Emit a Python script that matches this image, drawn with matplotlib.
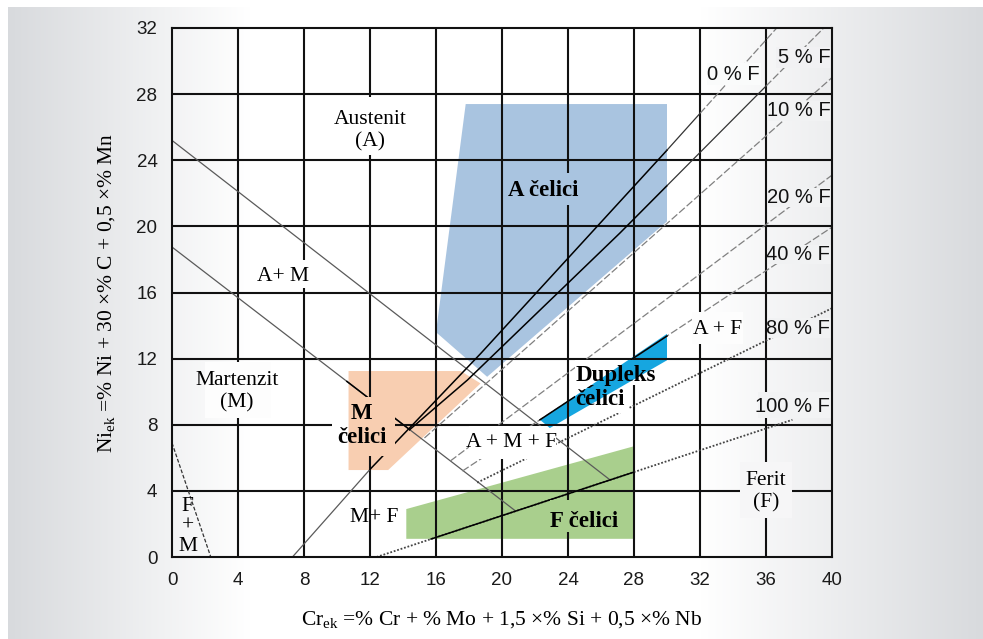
import numpy as np
import matplotlib
matplotlib.use("Agg")
import matplotlib.pyplot as plt
from matplotlib.patches import Polygon, Rectangle

plt.rcParams['mathtext.fontset'] = 'custom'
plt.rcParams['mathtext.rm'] = 'Liberation Serif'
plt.rcParams['mathtext.it'] = 'Liberation Serif:italic'
plt.rcParams['mathtext.bf'] = 'Liberation Serif:bold'

# ---------------- data ----------------
x_ticks = [0, 4, 8, 12, 16, 20, 24, 28, 32, 36, 40]
y_ticks = [0, 4, 8, 12, 16, 20, 24, 28, 32]

# phase boundaries (Cr_ek, Ni_ek)
am_upper_x = [0.0, 26.5]
am_upper_y = [25.2, 4.7]
am_lower_x = [0.0, 20.8]
am_lower_y = [18.75, 2.8]
fm_x = [0.0, 2.35]
fm_y = [6.9, 0.0]

# ferrite lines
f0_x = [7.3, 12.0, 18.7, 29.9, 36.65]
f0_y = [0.0, 5.3, 12.3, 24.5, 32.0]
f5_x = [14.4, 17.9, 27.15, 39.5]
f5_y = [7.7, 10.7, 19.6, 32.0]
f10_x = [15.3, 40.0]
f10_y = [7.2, 29.0]
f20_x = [16.87, 40.0]
f20_y = [5.81, 23.1]
f40_x = [17.6, 22.3, 40.0]
f40_y = [5.2, 8.3, 19.95]
f80_x = [18.5, 40.0]
f80_y = [4.5, 15.05]
f100_x = [12.4, 37.6]
f100_y = [0.0, 8.3]

# steel group areas
a_celici_x = [17.8, 30.0, 30.0, 19.1, 16.0]
a_celici_y = [27.4, 27.4, 20.3, 10.9, 13.6]
m_celici_x = [10.7, 17.5, 18.7, 13.1, 10.7]
m_celici_y = [11.25, 11.25, 10.5, 5.26, 5.26]
d_celici_x = [22.3, 30.0, 30.0, 22.9]
d_celici_y = [8.3, 13.5, 11.9, 7.8]
f_celici_x = [14.2, 28.0, 28.0, 14.2]
f_celici_y = [2.9, 6.7, 1.1, 1.1]

ferrite_labels = ['0 % F', '5 % F', '10 % F', '20 % F', '40 % F', '80 % F', '100 % F']
region_labels = ['Austenit\n(A)', 'A+ M', 'Martenzit\n(M)', 'F\n+\nM', 'A + M + F', 'M+ F', 'A + F', 'Ferit\n(F)']
steel_labels = ['A čelici', 'M\nčelici', 'Dupleks\nčelici', 'F čelici']

# ---------------- figure ----------------
W, H = 983, 639
fig = plt.figure(figsize=(W / 100, H / 100), dpi=100)

GRAY = np.array([0.847, 0.855, 0.867])


def bg_rgb(px):
    px = np.asarray(px, dtype=float)
    tl = np.clip((250 - px) / 242.0, 0, 1)
    tr = np.clip((px - 700) / 283.0, 0, 1)
    t = np.maximum(tl, tr)[..., None]
    return 1 - (1 - GRAY) * t


bg_ax = fig.add_axes([0, 0, 1, 1], zorder=-10)
bg_ax.axis('off')
cols = bg_rgb(np.arange(W))
img = np.repeat(cols[None, :, :], H, axis=0)
img[:7, :, :] = 1.0
img[:, :8, :] = 1.0
bg_ax.imshow(img, extent=(0, W, H, 0), aspect='auto', interpolation='bilinear')
bg_ax.set_xlim(0, W)
bg_ax.set_ylim(H, 0)

ax = fig.add_axes([172 / W, 1 - 557 / H, 660 / W, 529 / H])
ax.set_facecolor('none')
ax.set_xlim(0, 40)
ax.set_ylim(0, 32)

# fills
fills = [
    (a_celici_x, a_celici_y, '#a9c4e0'),
    (m_celici_x, m_celici_y, '#f8ceb1'),
    (d_celici_x, d_celici_y, '#16a6e0'),
    (f_celici_x, f_celici_y, '#a9cf8d'),
]
for fx, fy, fc in fills:
    ax.add_patch(Polygon(np.column_stack([fx, fy]), closed=True, facecolor=fc,
                         edgecolor='none', zorder=1))

# grid
for v in x_ticks[1:-1]:
    ax.axvline(v, color='#111111', lw=1.5, zorder=2)
for v in y_ticks[1:-1]:
    ax.axhline(v, color='#111111', lw=1.5, zorder=2)
for s in ax.spines.values():
    s.set_linewidth(1.5)
    s.set_color('#111111')
    s.set_zorder(6)


def seg(xs, ys, x0, x1):
    xs = np.asarray(xs, float)
    ys = np.asarray(ys, float)
    xi = [x0] + [x for x in xs if x0 < x < x1] + [x1]
    return xi, np.interp(xi, xs, ys)


GRAYLINE = '#5a5a5a'
DASHC = '#808080'
DASH = (0, (6, 2))
DOT = (0, (1, 1))
BLW = 1.1

# boundary lines
ax.plot(am_upper_x, am_upper_y, color=GRAYLINE, lw=0.9, zorder=3)
ax.plot(am_lower_x, am_lower_y, color=GRAYLINE, lw=0.9, zorder=3)
ax.plot(*seg(am_lower_x, am_lower_y, 10.6, 14.4), color='black', lw=BLW, zorder=3.2)
ax.plot(fm_x, fm_y, color='#333333', lw=0.9, ls=(0, (3, 1.5)), zorder=3)

# 0 % F
ax.plot(*seg(f0_x, f0_y, f0_x[0], 12.0), color=GRAYLINE, lw=0.9, zorder=3)
ax.plot(*seg(f0_x, f0_y, 12.0, 30.0), color='black', lw=BLW, zorder=3.2)
ax.plot(*seg(f0_x, f0_y, 30.0, 32.0), color='#333333', lw=0.9, zorder=3.2)
ax.plot(*seg(f0_x, f0_y, 32.0, f0_x[-1]), color=DASHC, lw=0.9, ls=DASH, zorder=3)
# 5 % F
ax.plot(*seg(f5_x, f5_y, f5_x[0], 30.0), color='black', lw=BLW, zorder=3.2)
ax.plot(*seg(f5_x, f5_y, 30.0, 36.0), color='#333333', lw=0.9, zorder=3.2)
ax.plot(*seg(f5_x, f5_y, 36.0, f5_x[-1]), color=DASHC, lw=0.9, ls=DASH, zorder=3)
# 10 %, 20 % F
ax.plot(f10_x, f10_y, color=DASHC, lw=0.9, ls=DASH, zorder=3)
ax.plot(f20_x, f20_y, color=DASHC, lw=0.9, ls=DASH, zorder=3)
# 40 % F
ax.plot(f40_x, f40_y, color=DASHC, lw=0.9, ls=DASH, zorder=3)
ax.plot(*seg(f40_x, f40_y, 22.3, 30.0), color='black', lw=BLW, zorder=3.2)
# 80 %, 100 % F
ax.plot(f80_x, f80_y, color='#444444', lw=1.3, ls=DOT, zorder=3)
ax.plot(f100_x, f100_y, color='#444444', lw=1.3, ls=DOT, zorder=3)
ax.plot(*seg(f100_x, f100_y, 15.7, 28.0), color='black', lw=BLW, zorder=3.2)

# masks that open gaps in the grid/lines behind labels
masks = [
    (10.0, 14.0, 24.3, 27.8), (5.0, 8.5, 16.25, 17.95), (2.0, 6.0, 8.4, 11.8),
    (9.7, 13.5, 6.1, 9.7), (18.0, 23.3, 5.9, 7.9), (31.5, 34.6, 12.9, 14.85),
    (34.4, 37.6, 2.35, 5.77), (20.25, 24.8, 21.3, 23.2), (24.4, 29.6, 10.4, 11.9),
    (24.4, 27.7, 8.7, 10.2), (22.9, 27.2, 1.53, 3.45),
    (32.4, 35.7, 28.55, 29.9), (36.6, 39.95, 29.6, 30.85), (36.1, 39.95, 26.4, 27.6),
    (36.1, 39.95, 21.15, 22.35), (36.1, 39.95, 17.7, 18.9), (36.1, 39.95, 13.25, 14.45),
    (35.5, 39.95, 8.4, 10.0),
]
for x0, x1, y0, y1 in masks:
    pxc = ax.transData.transform(((x0 + x1) / 2, 0))[0]
    rect = Rectangle((x0, y0), x1 - x0, y1 - y0, facecolor=bg_rgb(pxc), edgecolor='none', zorder=3.5)
    ax.add_patch(rect)
    for fx, fy, fc in fills:
        p = Polygon(np.column_stack([fx, fy]), closed=True, facecolor=fc, edgecolor='none', zorder=3.6)
        ax.add_patch(p)
        p.set_clip_path(rect)

SERIF = 'Liberation Serif'
SANS = 'Liberation Sans'

# region labels
reg_pos = [(12.0, 25.8), (6.7, 16.95), (3.94, 10.0), (0.95, 1.85), (20.6, 6.9),
           (12.25, 2.36), (33.05, 13.75), (36.0, 3.95)]
for txt, (x, y) in zip(region_labels, reg_pos):
    ls = 1.1 if txt.startswith('F\n') else 1.2
    ax.text(x, y, txt, ha='center', va='center', fontsize=15.5, family=SERIF,
            linespacing=ls, zorder=5)

# steel labels
steel_pos = [(22.5, 22.15, 'center'), (11.5, 7.95, 'center'), (24.45, 10.25, 'left'), (25.0, 2.14, 'center')]
for txt, (x, y, ha) in zip(steel_labels, steel_pos):
    ax.text(x, y, txt, ha=ha, va='center', fontsize=16.5, family=SERIF, weight='bold',
            linespacing=1.15, multialignment='left' if ha == 'left' else 'center', zorder=5)

# ferrite labels
fl_pos = [(34.0, 29.2, 'center'), (39.9, 30.2, 'right'), (39.9, 27.0, 'right'), (39.9, 21.75, 'right'),
          (39.9, 18.3, 'right'), (39.9, 13.85, 'right'), (39.9, 9.1, 'right')]
for txt, (x, y, ha) in zip(ferrite_labels, fl_pos):
    ax.text(x, y, txt, ha=ha, va='center', fontsize=14.5, family=SANS, color='#111111', zorder=5)

# ticks
ax.set_xticks(x_ticks)
ax.set_yticks(y_ticks)
ax.set_xticklabels([str(v) for v in x_ticks], family=SANS, fontsize=13.5, color='#1a1a1a')
ax.set_yticklabels([str(v) for v in y_ticks], family=SANS, fontsize=13.5, color='#1a1a1a')
ax.tick_params(axis='x', length=0, pad=11.0)
ax.tick_params(axis='y', length=0, pad=10.5)

# axis titles
fig.text(502 / W, 1 - 620 / H, r'$\mathrm{Cr_{ek}}$ =% Cr + % Mo + 1,5 ×% Si + 0,5 ×% Nb',
         ha='center', va='center', fontsize=15.5, family=SERIF)
fig.text(107 / W, 1 - 293 / H, r'$\mathrm{Ni_{ek}}$ =% Ni + 30 ×% C + 0,5 ×% Mn',
         ha='center', va='center', fontsize=15.5, family=SERIF, rotation=90)

fig.savefig('out.png', dpi=100)
